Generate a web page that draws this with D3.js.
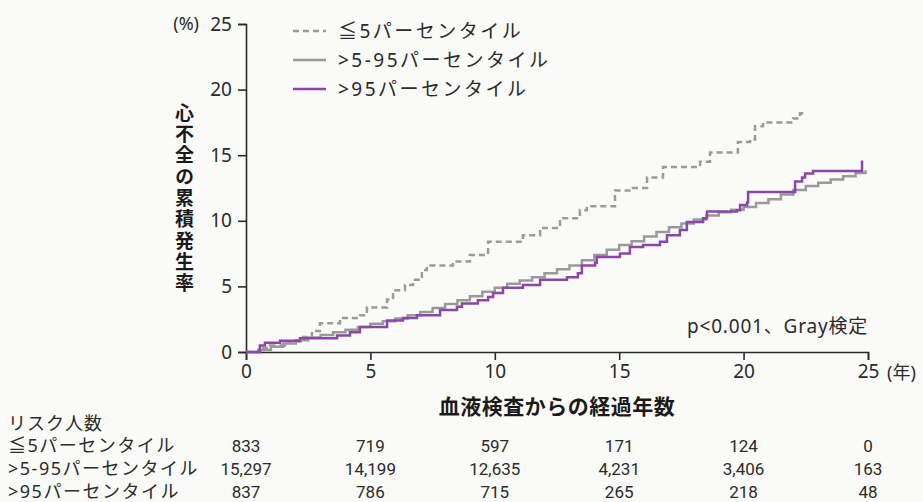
<!DOCTYPE html>
<html lang="ja">
<head>
    <meta charset="UTF-8">
    <script src="https://d3js.org/d3.v7.min.js"></script>
    <title>心不全の累積発生率</title>
    <style>
        body { margin: 0; background: #fafaf8; }
        svg { display: block; font-family: "Noto Sans", "Noto Sans CJK JP", sans-serif; }
    </style>
</head>
<body>
    <svg id="plot"></svg>
    <script>
        const width = 923, height = 502;

        // series (years, cumulative %)
        const seriesNames = ["≦5パーセンタイル", ">5-95パーセンタイル", ">95パーセンタイル"];
        const low = [[0,0],[0.5,0.3],[0.96,0.5],[1.57,0.8],[2.29,1.14],[2.65,1.6],[2.97,2.2],[3.78,2.6],[4.58,2.8],[4.86,3.4],
            [5.67,4.0],[5.91,4.7],[6.39,5.1],[6.71,5.5],[7.07,6.25],[7.27,6.6],[8.32,6.9],[9.0,7.4],[9.73,8.4],[11.13,8.9],
            [11.82,9.45],[12.62,10.2],[13.42,10.8],[13.7,11.1],[14.83,12.3],[15.55,12.5],[16.12,13.3],[16.76,14.1],[18.25,14.5],
            [18.65,15.2],[19.77,16.0],[20.26,16.2],[20.46,17.2],[20.78,17.5],[21.99,17.8],[22.27,18.2],[22.47,18.3]];
        const mid = [[0,0],[0.5,0.15],[1,0.4],[1.5,0.65],[2,0.9],[2.5,1.1],[3,1.3],[3.5,1.5],[4,1.7],[4.5,1.9],[5,2.15],
            [5.5,2.35],[6,2.55],[6.5,2.8],[7,3.05],[7.5,3.35],[8,3.65],[8.5,3.95],[9,4.25],[9.5,4.6],[10,4.9],[10.5,5.2],
            [11,5.45],[11.5,5.7],[12,6.0],[12.5,6.3],[13,6.6],[13.5,7.0],[14,7.4],[14.5,7.8],[15,8.15],[15.5,8.45],[16,8.8],
            [16.5,9.15],[17,9.5],[17.5,9.8],[18,10.1],[18.5,10.4],[19,10.65],[19.5,10.85],[20,11.05],[20.5,11.35],[21,11.65],
            [21.5,12.0],[22,12.35],[22.5,12.65],[23,12.9],[23.5,13.15],[24,13.4],[24.5,13.65],[24.9,13.85]];
        const high = [[0,0],[0.56,0.5],[0.76,0.7],[1.37,0.85],[2.17,1.05],[3.66,1.25],[4.18,1.5],[4.58,1.9],[5.67,2.4],
            [6.31,2.6],[6.87,2.8],[7.8,3.2],[8.48,3.45],[8.68,3.7],[9.32,3.95],[9.73,4.2],[9.93,4.5],[10.33,4.9],[11.13,5.1],
            [11.82,5.5],[12.9,5.7],[13.34,6.0],[13.5,6.6],[14.03,6.8],[14.1,7.25],[15.03,7.5],[15.43,8.0],[15.96,8.15],
            [16.64,8.4],[16.92,8.9],[17.44,9.3],[17.72,9.9],[18.37,10.2],[18.53,10.7],[19.73,10.8],[19.86,11.2],[20.14,11.4],
            [20.18,12.2],[22.07,13.0],[22.35,13.3],[22.47,13.6],[22.79,13.8],[24.76,14.6]];

        const xTicks = [0, 5, 10, 15, 20, 25];
        const yTicks = [0, 5, 10, 15, 20, 25];
        const riskRows = ["≦5パーセンタイル", ">5-95パーセンタイル", ">95パーセンタイル"];
        const riskLow = ["833", "719", "597", "171", "124", "0"];
        const riskMid = ["15,297", "14,199", "12,635", "4,231", "3,406", "163"];
        const riskHigh = ["837", "786", "715", "265", "218", "48"];

        const svg = d3.select("#plot").attr("width", width).attr("height", height);

        const x = d3.scaleLinear().domain([0, 25]).range([246, 868]);
        const y = d3.scaleLinear().domain([0, 25]).range([352, 24]);

        const ink = "#2b2b2b";

        // axes
        const yAxis = svg.append("g").attr("transform", `translate(${x(0)},0)`)
            .call(d3.axisLeft(y).tickValues(yTicks).tickSize(8).tickPadding(6));
        const xAxis = svg.append("g").attr("transform", `translate(0,${y(0)})`)
            .call(d3.axisBottom(x).tickValues(xTicks).tickSize(8).tickPadding(5));
        [yAxis, xAxis].forEach(g => {
            g.selectAll("path, line").attr("stroke", ink).attr("stroke-width", 1.6);
            g.selectAll("text").attr("fill", ink).style("font-size", "19px")
                .style("font-family", "'Noto Sans', 'Noto Sans CJK JP', sans-serif");
        });

        svg.append("text").attr("x", 199).attr("y", y(25)).attr("dy", "0.35em")
            .attr("text-anchor", "end").attr("fill", ink).style("font-size", "18px").text("(%)");
        svg.append("text").attr("x", 887).attr("y", y(0) + 21).attr("dy", "0.35em")
            .attr("fill", ink).style("font-size", "18px").text("(年)");

        // lines
        const line = d3.line().x(d => x(d[0])).y(d => y(d[1])).curve(d3.curveStepAfter);
        const styles = [
            {data: low, color: "#9b9b9b", dash: "6,4"},
            {data: mid, color: "#9a9a9a", dash: null},
            {data: high, color: "#8d46a8", dash: null}
        ];
        styles.forEach(s => {
            svg.append("path").attr("d", line(s.data)).attr("fill", "none")
                .attr("stroke", s.color).attr("stroke-width", 2.5)
                .attr("stroke-dasharray", s.dash);
        });

        // legend
        const legend = svg.append("g");
        seriesNames.forEach((name, i) => {
            const ly = 31 + i * 29;
            legend.append("line").attr("x1", 293).attr("x2", 326).attr("y1", ly).attr("y2", ly)
                .attr("stroke", styles[i].color).attr("stroke-width", 2.5)
                .attr("stroke-dasharray", styles[i].dash);
            legend.append("text").attr("x", 338).attr("y", ly).attr("dy", "0.35em")
                .attr("fill", ink).style("font-size", "19px").style("letter-spacing", "2.5px").text(name);
        });

        svg.append("text").attr("x", 868).attr("y", 326).attr("dy", "0.35em").attr("text-anchor", "end")
            .attr("fill", ink).style("font-size", "19px").style("letter-spacing", "0.8px").text("p<0.001、Gray検定");

        // axis titles
        svg.append("text").attr("x", x(12.5)).attr("y", 407).attr("dy", "0.35em").attr("text-anchor", "middle")
            .attr("fill", "#1a1a1a").style("font-size", "21px").style("font-weight", "bold")
            .style("letter-spacing", "0.5px").text("血液検査からの経過年数");
        svg.append("text").attr("x", 183).attr("y", 103)
            .style("writing-mode", "vertical-rl").attr("fill", "#1a1a1a")
            .style("font-size", "19px").style("font-weight", "bold").style("letter-spacing", "2.3px")
            .text("心不全の累積発生率");

        // risk table
        svg.append("text").attr("x", 8).attr("y", 424).attr("dy", "0.35em").attr("fill", ink)
            .style("font-size", "18px").style("letter-spacing", "1px").text("リスク人数");
        [riskLow, riskMid, riskHigh].forEach((row, r) => {
            const ry = 446 + r * 23;
            svg.append("text").attr("x", 8).attr("y", ry).attr("dy", "0.35em").attr("fill", ink)
                .style("font-size", "18px").style("letter-spacing", "1.5px").text(riskRows[r]);
            row.forEach((v, j) => {
                svg.append("text").attr("x", x(xTicks[j])).attr("y", ry).attr("dy", "0.35em")
                    .attr("text-anchor", "middle").attr("fill", ink)
                    .style("font-family", "Roboto, sans-serif")
                    .style("font-size", "17px").text(v);
            });
        });
    </script>
</body>
</html>
